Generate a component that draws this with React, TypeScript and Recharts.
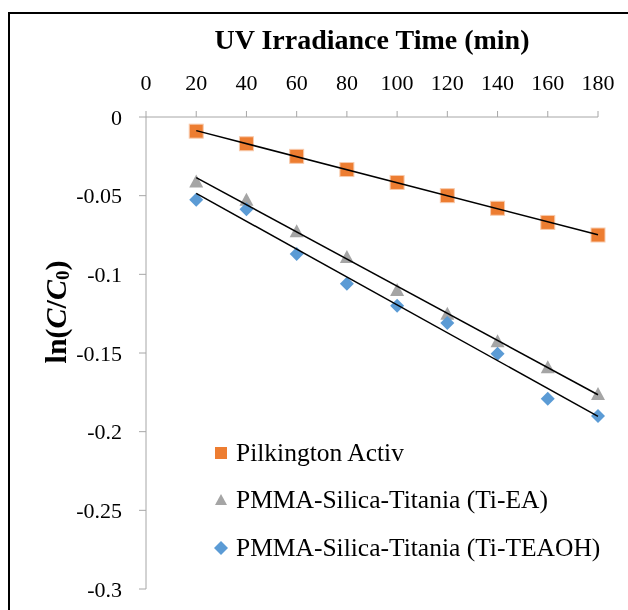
import React from 'react';
import { ScatterChart, Scatter, XAxis, YAxis, Legend } from 'recharts';

const times = [20, 40, 60, 80, 100, 120, 140, 160, 180];
const pilkington = [-0.009, -0.017, -0.025, -0.0334, -0.0416, -0.050, -0.058, -0.067, -0.075];
const tiEA = [-0.041, -0.0526, -0.0726, -0.089, -0.110, -0.125, -0.1425, -0.159, -0.176];
const tiTEAOH = [-0.0526, -0.0586, -0.087, -0.106, -0.120, -0.131, -0.1505, -0.179, -0.190];

const seriesNames = ['Pilkington Activ', 'PMMA-Silica-Titania (Ti-EA)', 'PMMA-Silica-Titania (Ti-TEAOH)'];
const seriesColors = ['#ED7D31', '#A5A5A5', '#5B9BD5'];
const seriesShapes = ['square', 'triangle', 'diamond'];

const xTicks = [0, 20, 40, 60, 80, 100, 120, 140, 160, 180];
const yTicks = [0, -0.05, -0.1, -0.15, -0.2, -0.25, -0.3];
const yTickLabels = ['0', '-0.05', '-0.1', '-0.15', '-0.2', '-0.25', '-0.3'];

const xTitle = 'UV Irradiance Time (min)';

const FONT = 'Liberation Serif';

const toPoints = (ys: number[]) => times.map((x, i) => ({ x, y: ys[i] }));

// least-squares trendline over the data range (as the spreadsheet trendline)
const trend = (ys: number[]) => {
  const n = times.length;
  const mx = times.reduce((a, b) => a + b, 0) / n;
  const my = ys.reduce((a, b) => a + b, 0) / n;
  let sxy = 0;
  let sxx = 0;
  times.forEach((x, i) => {
    sxy += (x - mx) * (ys[i] - my);
    sxx += (x - mx) * (x - mx);
  });
  const b = sxy / sxx;
  const a = my - b * mx;
  const x0 = times[0];
  const x1 = times[n - 1];
  return [
    { x: x0, y: a + b * x0 },
    { x: x1, y: a + b * x1 },
  ];
};

const SquareShape = (p: any) => (
  <rect x={p.cx - 7} y={p.cy - 7} width={14} height={14} fill={seriesColors[0]} stroke="#F8CBAD" strokeWidth={1} />
);
const TriangleShape = (p: any) => (
  <polygon
    points={`${p.cx},${p.cy - 7} ${p.cx + 7},${p.cy + 6} ${p.cx - 7},${p.cy + 6}`}
    fill={seriesColors[1]}
  />
);
const DiamondShape = (p: any) => (
  <polygon
    points={`${p.cx},${p.cy - 7} ${p.cx + 7},${p.cy} ${p.cx},${p.cy + 7} ${p.cx - 7},${p.cy}`}
    fill={seriesColors[2]}
  />
);
const NoShape = () => <g />;

const LegendIcon = ({ shape, color }: { shape: string; color: string }) => (
  <svg width={18} height={18} style={{ display: 'block', flex: 'none' }}>
    {shape === 'square' && <rect x={3} y={3} width={12} height={12} fill={color} />}
    {shape === 'triangle' && <polygon points="9,3 15,14 3,14" fill={color} />}
    {shape === 'diamond' && <polygon points="9,2 16,9 9,16 2,9" fill={color} />}
  </svg>
);

const renderLegend = () => (
  <div style={{ fontFamily: FONT, fontSize: 25.5, color: '#000' }}>
    {seriesNames.map((name, i) => (
      <div key={name} style={{ display: 'flex', alignItems: 'center', height: 47.5, whiteSpace: 'nowrap' }}>
        <LegendIcon shape={seriesShapes[i]} color={seriesColors[i]} />
        <span style={{ marginLeft: 6 }}>{name}</span>
      </div>
    ))}
  </div>
);

const YLabel = (props: any) => {
  const vb = props.viewBox || { x: 0, y: 117, width: 146, height: 472 };
  const cx = vb.x + 55;
  const cy = vb.y + vb.height / 2 - 41;
  return (
    <text
      x={cx}
      y={cy}
      transform={`rotate(-90, ${cx}, ${cy})`}
      textAnchor="middle"
      dominantBaseline="central"
      fontFamily={FONT}
      fontSize={30}
      fontWeight="bold"
      fill="#000"
    >
      ln(
      <tspan fontStyle="italic">C</tspan>/<tspan fontStyle="italic">C</tspan>
      <tspan fontSize={19} dy={7}>0</tspan>
      <tspan dy={-7}>)</tspan>
    </text>
  );
};

export default function App() {
  const tickStyle = { fontFamily: FONT, fontSize: 22, fill: '#000' };
  return (
    <div>
      <div
        style={{
          position: 'fixed',
          left: 8,
          top: 12,
          width: 640,
          height: 640,
          border: '2px solid #000',
          boxSizing: 'border-box',
        }}
      />
      <div
        style={{
          position: 'fixed',
          left: 146,
          top: 23,
          width: 452,
          textAlign: 'center',
          fontFamily: FONT,
          fontSize: 28,
          fontWeight: 'bold',
          lineHeight: '34px',
          color: '#000',
        }}
      >
        {xTitle}
      </div>
      <div style={{ position: 'fixed', left: 0, top: 0 }}>
        <ScatterChart width={628} height={610} margin={{ top: 0, right: 30, bottom: 21, left: 0 }}>
          <XAxis
            type="number"
            dataKey="x"
            orientation="top"
            domain={[0, 180]}
            ticks={xTicks}
            height={117}
            tick={tickStyle}
            tickSize={6}
            tickMargin={21}
            stroke="#A6A6A6"
            axisLine={{ stroke: '#A6A6A6' }}
            tickLine={{ stroke: '#A6A6A6' }}
          />
          <YAxis
            type="number"
            dataKey="y"
            domain={[-0.3, 0]}
            ticks={yTicks}
            width={146}
            tick={tickStyle}
            tickFormatter={(v: number) => yTickLabels[yTicks.indexOf(v)] ?? String(v)}
            tickSize={7}
            tickMargin={17}
            stroke="#A6A6A6"
            axisLine={{ stroke: '#A6A6A6' }}
            tickLine={{ stroke: '#A6A6A6' }}
            label={<YLabel />}
          />
          <Legend
            content={renderLegend}
            layout="horizontal"
            verticalAlign="middle"
            align="center"
            wrapperStyle={{ position: 'absolute', left: 212, top: 429, width: 410, height: 143 }}
          />
          <Scatter name={seriesNames[0]} data={toPoints(pilkington)} shape={SquareShape} isAnimationActive={false} />
          <Scatter name={seriesNames[1]} data={toPoints(tiEA)} shape={TriangleShape} isAnimationActive={false} />
          <Scatter name={seriesNames[2]} data={toPoints(tiTEAOH)} shape={DiamondShape} isAnimationActive={false} />
          <Scatter
            data={trend(pilkington)}
            shape={NoShape}
            line={{ stroke: '#000', strokeWidth: 1.5 }}
            legendType="none"
            isAnimationActive={false}
          />
          <Scatter
            data={trend(tiEA)}
            shape={NoShape}
            line={{ stroke: '#000', strokeWidth: 1.5 }}
            legendType="none"
            isAnimationActive={false}
          />
          <Scatter
            data={trend(tiTEAOH)}
            shape={NoShape}
            line={{ stroke: '#000', strokeWidth: 1.5 }}
            legendType="none"
            isAnimationActive={false}
          />
        </ScatterChart>
      </div>
    </div>
  );
}
